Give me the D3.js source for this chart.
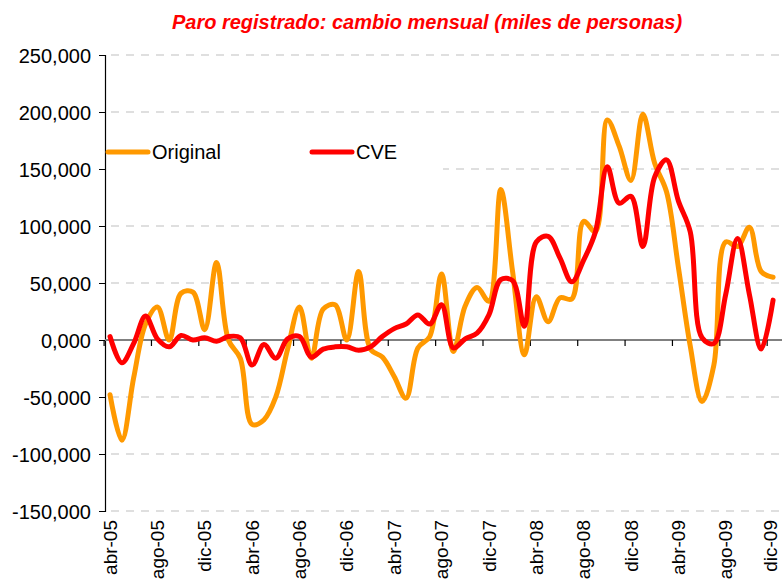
<!DOCTYPE html>
<html>
<head>
<meta charset="utf-8">
<script src="https://cdn.jsdelivr.net/npm/d3@7/dist/d3.min.js"></script>
<style>
  html, body { margin: 0; padding: 0; background: #fff; }
  svg { display: block; font-family: Arial, "Liberation Sans", sans-serif; }
</style>
</head>
<body>
<svg id="chart" width="782" height="582"></svg>
<script>
// ---- data (miles de personas) ----
const months = [
  "abr-05","may-05","jun-05","jul-05","ago-05","sep-05","oct-05","nov-05","dic-05",
  "ene-06","feb-06","mar-06","abr-06","may-06","jun-06","jul-06","ago-06","sep-06","oct-06","nov-06","dic-06",
  "ene-07","feb-07","mar-07","abr-07","may-07","jun-07","jul-07","ago-07","sep-07","oct-07","nov-07","dic-07",
  "ene-08","feb-08","mar-08","abr-08","may-08","jun-08","jul-08","ago-08","sep-08","oct-08","nov-08","dic-08",
  "ene-09","feb-09","mar-09","abr-09","may-09","jun-09","jul-09","ago-09","sep-09","oct-09","nov-09","dic-09"
];
const original = [
  -48, -88, -33, 14, 29, 0, 41, 42, 9,
  68, 0, -16, -74, -70, -50, -8, 29, -16, 27, 31, 0,
  60, -8, -15, -32, -51, -7, 3, 58, -10, 30, 46, 34,
  132, 60, -13, 38, 16, 37, 36, 104, 95, 193, 170, 140,
  198, 155, 130, 64, -5, -54, -22, 86, 82, 99, 60, 55
];
const cve = [
  3, -20, -3, 21, 1, -6, 4, 0, 2,
  -1, 3, 2, -22, -4, -16, 1, 3, -15, -8, -6, -6,
  -9, -6, 3, 10, 14, 22, 14, 31, -7, 1, 6, 22,
  53, 52, 12, 86, 91, 72, 51, 70, 95, 152, 120, 126,
  82, 143, 158, 122, 95, 2, -3, 40, 89, 40, -8, 35
];
const yTicks = [-150, -100, -50, 0, 50, 100, 150, 200, 250];
const seriesNames = ["Original", "CVE"];
const seriesColors = ["#FF9900", "#FF0000"];
const titleText = "Paro registrado: cambio mensual (miles de personas)";

// ---- layout ----
const svg = d3.select("#chart");
const W = 782, H = 582;
const left = 105, right = 782;
const yTop = 55, yBottom = 511;

svg.append("rect").attr("width", W).attr("height", H).attr("fill", "#fff");

const x = d3.scaleBand().domain(months).range([104.1, 779.0]).paddingInner(0).paddingOuter(0);
const xc = m => x(m) + x.bandwidth() / 2;
const y = d3.scaleLinear().domain([-150, 250]).range([yBottom, yTop]);

const loc = d3.formatLocale({decimal: ",", thousands: ".", grouping: [3], currency: ["", ""], minus: "-"});
const fmt = loc.format(".3f");

// gridlines
svg.append("g").selectAll("line").data(yTicks.filter(v => v !== 0)).join("line")
  .attr("x1", left + 6).attr("x2", right)
  .attr("y1", d => y(d)).attr("y2", d => y(d))
  .attr("stroke", "#c0c0c0").attr("stroke-width", 1.2)
  .attr("stroke-dasharray", "8,7");

// legend background (covers gridline)
svg.append("rect").attr("x", left + 1).attr("y", 132).attr("width", 337).attr("height", 42).attr("fill", "#fff");

// y axis
const yAxis = d3.axisLeft(y).tickValues(yTicks).tickSize(6).tickFormat(d => fmt(d));
const gy = svg.append("g").attr("transform", `translate(${left},0)`).call(yAxis);
gy.select(".domain").attr("stroke", "#000").attr("stroke-width", 1.2);
gy.selectAll(".tick line").attr("stroke", "#000");
gy.selectAll(".tick text")
  .attr("x", -14).attr("dy", "0.35em")
  .attr("font-size", 20).attr("fill", "#000")
  .attr("font-family", "Arial, 'Liberation Sans', sans-serif");

// x axis at zero
svg.append("line").attr("x1", left).attr("x2", right)
  .attr("y1", y(0)).attr("y2", y(0))
  .attr("stroke", "#808080").attr("stroke-width", 2);
const tickIdx = months.map((m, i) => i).filter(i => i % 4 === 0);
svg.append("g").selectAll("line").data(tickIdx).join("line")
  .attr("x1", i => x(months[i])).attr("x2", i => x(months[i]))
  .attr("y1", y(0)).attr("y2", y(0) + 6)
  .attr("stroke", "#000").attr("stroke-width", 1.2);

// x labels (rotated)
svg.append("g").selectAll("text").data(tickIdx).join("text")
  .attr("transform", i => `translate(${Math.min(xc(months[i]), 770)},520) rotate(-90)`)
  .attr("text-anchor", "end").attr("dy", "0.35em")
  .attr("font-size", 19).attr("fill", "#000")
  .text(i => months[i]);

// lines
const line = d3.line()
  .x((d, i) => xc(months[i]))
  .y(d => y(d))
  .curve(d3.curveCatmullRom.alpha(0.5));

[original, cve].forEach((s, k) => {
  svg.append("path").datum(s)
    .attr("d", line)
    .attr("fill", "none")
    .attr("stroke", seriesColors[k])
    .attr("stroke-width", 5)
    .attr("stroke-linejoin", "round")
    .attr("stroke-linecap", "round");
});

// legend
const legendPos = [108, 312];
seriesNames.forEach((n, k) => {
  const g = svg.append("g");
  g.append("line").attr("x1", legendPos[k]).attr("x2", legendPos[k] + 40)
    .attr("y1", 152).attr("y2", 152)
    .attr("stroke", seriesColors[k]).attr("stroke-width", 5).attr("stroke-linecap", "round");
  g.append("text").attr("x", legendPos[k] + 44).attr("y", 152).attr("dy", "0.35em")
    .attr("font-size", 20).attr("fill", "#000").text(n);
});

// title
svg.append("text").attr("x", 427).attr("y", 29)
  .attr("text-anchor", "middle")
  .attr("font-size", 20).attr("font-weight", "bold").attr("font-style", "italic")
  .attr("fill", "#FF0000")
  .text(titleText);
</script>
</body>
</html>
